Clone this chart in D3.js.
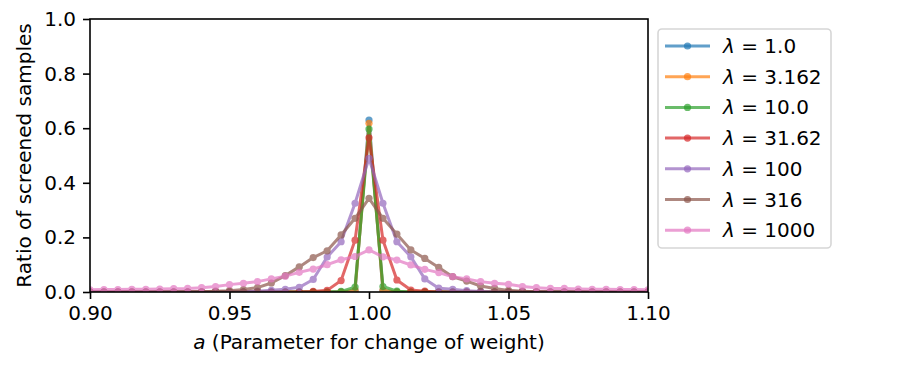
<!DOCTYPE html>
<meta charset="utf-8">
<style>
body { margin: 0; background: #fff; }
svg text { font-family: "DejaVu Sans", sans-serif; }
</style>
<svg width="900" height="375"></svg>
<script src="https://d3js.org/d3.v7.min.js"></script>
<script>

// a values (0.900 ... 1.100, every 0.005)
var aValues = [0.900, 0.905, 0.910, 0.915, 0.920, 0.925, 0.930, 0.935, 0.940, 0.945,
               0.950, 0.955, 0.960, 0.965, 0.970, 0.975, 0.980, 0.985, 0.990, 0.995,
               1.000,
               1.005, 1.010, 1.015, 1.020, 1.025, 1.030, 1.035, 1.040, 1.045, 1.050,
               1.055, 1.060, 1.065, 1.070, 1.075, 1.080, 1.085, 1.090, 1.095, 1.100];

var lambdaLabels = ["1.0", "3.162", "10.0", "31.62", "100", "316", "1000"];

var ratio_l1 = [0,0,0,0,0,0,0,0,0,0, 0,0,0,0,0,0,0,0,0,0.004, 0.630,
                0.004,0,0,0,0,0,0,0,0,0, 0,0,0,0,0,0,0,0,0,0];
var ratio_l3 = [0,0,0,0,0,0,0,0,0,0, 0,0,0,0,0,0,0,0,0,0.006, 0.618,
                0.006,0,0,0,0,0,0,0,0,0, 0,0,0,0,0,0,0,0,0,0];
var ratio_l10 = [0,0,0,0,0,0,0,0,0,0, 0,0,0,0,0,0,0,0,0.002,0.018, 0.597,
                 0.020,0.003,0,0,0,0,0,0,0,0, 0,0,0,0,0,0,0,0,0,0];
var ratio_l31 = [0,0,0,0,0,0,0,0,0,0, 0,0,0,0,0,0,0.002,0.006,0.042,0.190, 0.565,
                 0.190,0.044,0.007,0.003,0,0,0,0,0,0, 0,0,0,0,0,0,0,0,0,0];
var ratio_l100 = [0,0,0,0,0,0,0,0,0,0, 0,0.001,0.003,0.006,0.010,0.017,0.046,0.128,0.184,0.325, 0.490,
                  0.325,0.184,0.129,0.048,0.014,0.010,0.005,0.002,0,0, 0,0,0,0,0,0,0,0,0,0];
var ratio_l316 = [0,0,0,0,0,0,0,0,0.001,0.003, 0.005,0.009,0.016,0.033,0.060,0.092,0.126,0.151,0.209,0.270, 0.343,
                  0.270,0.212,0.154,0.123,0.090,0.056,0.040,0.022,0.013,0.006, 0.003,0.001,0,0,0,0,0,0,0,0];
var ratio_l1000 = [0.008,0.009,0.009,0.010,0.010,0.011,0.012,0.013,0.016,0.020, 0.027,0.032,0.038,0.048,0.058,0.072,0.084,0.100,0.118,0.130, 0.154,
                   0.129,0.117,0.099,0.083,0.071,0.056,0.048,0.038,0.032,0.028, 0.020,0.016,0.013,0.013,0.011,0.010,0.010,0.009,0.009,0.008];

var seriesValues = [ratio_l1, ratio_l3, ratio_l10, ratio_l31, ratio_l100, ratio_l316, ratio_l1000];
var colors = ["#1f77b4", "#ff7f0e", "#2ca02c", "#d62728", "#9467bd", "#8c564b", "#e377c2"];

var xTicks = [0.90, 0.95, 1.00, 1.05, 1.10];
var yTicks = [0.0, 0.2, 0.4, 0.6, 0.8, 1.0];

var svg = d3.select("svg"),
    plotLeft = 90, plotRight = 648, plotTop = 19, plotBottom = 292,
    fontSize = 20;

var x = d3.scaleLinear().domain([0.90, 1.10]).range([plotLeft, plotRight]);
var y = d3.scaleLinear().domain([0, 1]).range([plotBottom, plotTop]);

svg.append("defs").append("clipPath").attr("id", "plotclip")
  .append("rect")
    .attr("x", plotLeft).attr("y", plotTop)
    .attr("width", plotRight - plotLeft).attr("height", plotBottom - plotTop);

var plot = svg.append("g").attr("clip-path", "url(#plotclip)");

var line = d3.line()
    .x(function(d, i) { return x(aValues[i]); })
    .y(function(d) { return y(d); });

seriesValues.forEach(function(vals, k) {
  var s = plot.append("g").attr("opacity", 0.7);
  s.append("path")
    .attr("d", line(vals))
    .attr("fill", "none")
    .attr("stroke", colors[k])
    .attr("stroke-width", 3)
    .attr("stroke-linejoin", "round");
  s.selectAll("circle")
    .data(vals)
    .enter().append("circle")
      .attr("cx", function(d, i) { return x(aValues[i]); })
      .attr("cy", function(d) { return y(d); })
      .attr("r", 3.6)
      .attr("fill", colors[k]);
});

// axes
svg.append("g")
    .attr("transform", "translate(0," + plotBottom + ")")
    .call(d3.axisBottom(x).tickValues(xTicks).tickFormat(d3.format(".2f")).tickSizeInner(7).tickSizeOuter(0).tickPadding(7));
svg.append("g")
    .attr("transform", "translate(" + plotLeft + ",0)")
    .call(d3.axisLeft(y).tickValues(yTicks).tickFormat(d3.format(".1f")).tickSizeInner(7).tickSizeOuter(0).tickPadding(7));

svg.selectAll(".domain").remove();
svg.selectAll(".tick line").attr("stroke", "#000").attr("stroke-width", 1.6);
svg.selectAll(".tick text").attr("font-size", fontSize).attr("fill", "#000");

svg.append("rect")
    .attr("x", plotLeft).attr("y", plotTop)
    .attr("width", plotRight - plotLeft).attr("height", plotBottom - plotTop)
    .attr("fill", "none").attr("stroke", "#000").attr("stroke-width", 1.6);

// axis labels
var xl = svg.append("text")
    .attr("x", (plotLeft + plotRight) / 2).attr("y", 349)
    .attr("text-anchor", "middle")
    .attr("font-size", fontSize);
xl.append("tspan").attr("font-style", "italic").text("a");
xl.append("tspan").text(" (Parameter for change of weight)");

svg.append("text")
    .attr("transform", "translate(31," + ((plotTop + plotBottom) / 2) + ") rotate(-90)")
    .attr("text-anchor", "middle")
    .attr("font-size", fontSize)
    .text("Ratio of screened samples");

// legend
var legend = svg.append("g");
legend.append("rect")
    .attr("x", 658).attr("y", 29)
    .attr("width", 173).attr("height", 219)
    .attr("rx", 4)
    .attr("fill", "#fff").attr("fill-opacity", 0.8)
    .attr("stroke", "#d6d6d6").attr("stroke-width", 1.6);

var entry = legend.selectAll("g.entry")
  .data(lambdaLabels)
  .enter().append("g")
    .attr("class", "entry")
    .attr("transform", function(d, i) { return "translate(0," + (46 + i * 30.7) + ")"; });

entry.append("line")
    .attr("x1", 665).attr("x2", 710)
    .attr("stroke", function(d, i) { return colors[i]; })
    .attr("stroke-width", 3)
    .attr("opacity", 0.7);
entry.append("circle")
    .attr("cx", 687.5).attr("r", 3.6)
    .attr("fill", function(d, i) { return colors[i]; })
    .attr("opacity", 0.7);

var lt = entry.append("text")
    .attr("x", 723).attr("dy", "0.35em")
    .attr("font-size", fontSize);
lt.append("tspan").attr("font-style", "italic").text("λ");
lt.append("tspan").text(" = ");
lt.append("tspan").text(function(d) { return d; });

</script>
